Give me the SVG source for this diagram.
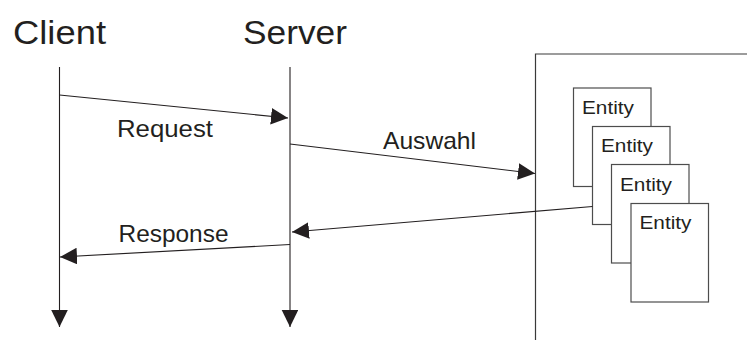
<svg xmlns="http://www.w3.org/2000/svg" width="747" height="340" viewBox="0 0 747 340">
  <style>
    .title { font-family: "Liberation Sans", Arial, sans-serif; font-size: 34px; fill: #231f20; }
    .label { font-family: "Liberation Sans", Arial, sans-serif; font-size: 24px; fill: #231f20; }
    .ent { font-family: "Liberation Sans", Arial, sans-serif; font-size: 19px; fill: #231f20; }
    .line { stroke: #231f20; stroke-width: 1.1; fill: none; }
    .msg { stroke: #231f20; stroke-width: 1.1; fill: none; marker-end: url(#arrow); }
    .box { fill: #ffffff; stroke: #4d4d4d; stroke-width: 1.2; }
    .frame { stroke: #3a3a3a; stroke-width: 1.2; fill: none; }
  </style>
  <defs>
    <marker id="arrow" markerUnits="userSpaceOnUse" markerWidth="18" markerHeight="18" refX="17" refY="8.3" orient="auto">
      <path d="M0,0 L17,8.3 L0,16.6 Z" fill="#231f20"/>
    </marker>
  </defs>
  <rect width="747" height="340" fill="#ffffff"/>

  <g id="client">
    <text class="title" x="13" y="44" textLength="93" lengthAdjust="spacingAndGlyphs">Client</text>
  </g>
  <g id="server">
    <text class="title" x="243" y="43.5" textLength="104" lengthAdjust="spacingAndGlyphs">Server</text>
  </g>

  <!-- data store frame with stacked entities -->
  <g id="store">
    <path class="frame" d="M535.5,340 L535.5,54 L747,54"/>
  </g>
  <g id="entity1">
    <rect class="box" x="573.5" y="88" width="77.5" height="98.5"/>
    <text class="ent" x="582" y="113.5" textLength="52" lengthAdjust="spacingAndGlyphs">Entity</text>
  </g>
  <g id="entity2">
    <rect class="box" x="592.5" y="126.5" width="77.5" height="98"/>
    <text class="ent" x="601" y="152" textLength="52" lengthAdjust="spacingAndGlyphs">Entity</text>
  </g>
  <g id="entity3">
    <rect class="box" x="611.5" y="164.5" width="77.5" height="98.5"/>
    <text class="ent" x="620" y="190.5" textLength="52" lengthAdjust="spacingAndGlyphs">Entity</text>
  </g>
  <g id="entity4">
    <rect class="box" x="631" y="203.5" width="77.5" height="98.5"/>
    <text class="ent" x="639.5" y="229" textLength="52" lengthAdjust="spacingAndGlyphs">Entity</text>
  </g>

  <g id="connectors">
    <!-- lifelines -->
    <line class="msg" x1="59.5" y1="67" x2="59.5" y2="327"/>
    <line class="msg" x1="290" y1="67" x2="290" y2="327"/>
    <!-- messages -->
    <line class="msg" x1="59.5" y1="95" x2="288" y2="118"/>
    <line class="msg" x1="290" y1="144" x2="535" y2="173.5"/>
    <line class="msg" x1="592.5" y1="206.5" x2="292" y2="232"/>
    <line class="msg" x1="290" y1="244.5" x2="60" y2="257"/>
  </g>

  <g id="labels">
    <text class="label" x="117" y="137" textLength="96" lengthAdjust="spacingAndGlyphs">Request</text>
    <text class="label" x="383" y="149" textLength="93" lengthAdjust="spacingAndGlyphs">Auswahl</text>
    <text class="label" x="118.5" y="242" textLength="110" lengthAdjust="spacingAndGlyphs">Response</text>
  </g>
</svg>
